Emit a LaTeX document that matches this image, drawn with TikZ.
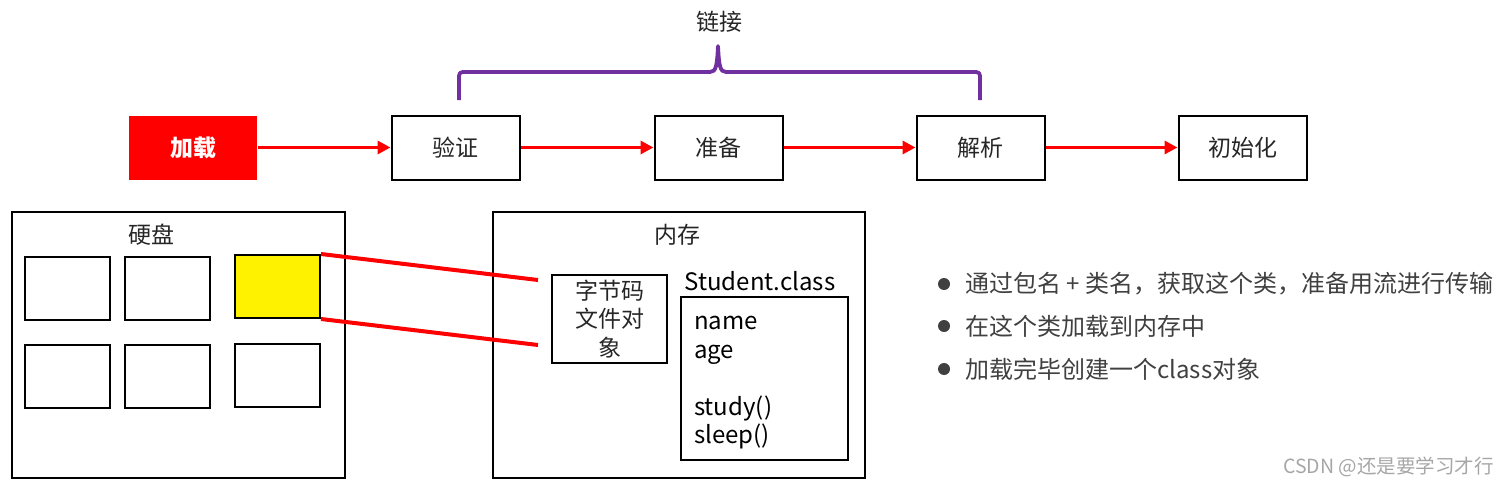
\documentclass[tikz,border=0pt]{standalone}
\usepackage{fontspec}
\setmainfont{Noto Sans CJK SC}
\usetikzlibrary{arrows.meta}
\definecolor{txt}{HTML}{262626}
\definecolor{bracecol}{HTML}{7030A0}
\definecolor{dotcol}{HTML}{404040}
\definecolor{wm}{HTML}{A6A6A6}
\begin{document}
\begin{tikzpicture}[x=1pt,y=-1pt,
  stage/.style={draw=black, line width=2pt, minimum width=128pt, minimum height=64pt, inner sep=0pt, font=\fontsize{23}{26}\selectfont, text=txt},
  flow/.style={red, line width=3.5pt, -{Triangle[length=13pt,width=13pt]}},
  frame/.style={draw=black, line width=2pt, inner sep=0pt},
  cell/.style={draw=black, line width=2pt, minimum width=85pt, minimum height=63pt, inner sep=0pt},
  lbl/.style={font=\fontsize{23}{26}\selectfont, text=txt, inner sep=0pt},
  link/.style={red, line width=4pt},
  bullet/.style={circle, fill=dotcol, minimum size=12pt, inner sep=0pt},
  btext/.style={font=\fontsize{24}{26}\selectfont, text=dotcol, anchor=west, inner sep=0pt}]
\useasboundingbox (0,0) rectangle (1509,487);

% top flow
\node[stage, draw=none, fill=red, text=white, font=\fontsize{23}{26}\selectfont\bfseries] (load) at (193,147.5) {加载};
\node[stage] (verify) at (455.5,147.5) {验证};
\node[stage] (prep) at (718.5,147.5) {准备};
\node[stage] (resolve) at (980.5,147.5) {解析};
\node[stage] (init) at (1242.5,147.5) {初始化};
\draw[flow] (load) -- (verify);
\draw[flow] (verify) -- (prep);
\draw[flow] (prep) -- (resolve);
\draw[flow] (resolve) -- (init);

% brace
\coordinate (bl) at (459,100);
\coordinate (br) at (980,100);
\draw[bracecol, line width=3.8pt, line join=round]
  (bl) -- (459,80) .. controls (459,72) .. (467,72) -- (710,72)
  .. controls (716,72) and (717,66) .. (718,46)
  .. controls (719,66) and (720,72) .. (726,72) -- (972,72)
  .. controls (980,72) .. (980,80) -- (br);
\node[lbl] (linklbl) at (719,22) {链接};

% hard disk
\node[frame, minimum width=333pt, minimum height=266pt] (disk) at (178.5,345) {};
\node[lbl] (disklbl) at (151,235) {硬盘};
\node[cell] (c1) at (67.5,288.5) {};
\node[cell] (c2) at (167.5,288.5) {};
\node[cell, fill=yellow] (c3) at (277.5,286.5) {};
\node[cell] (c4) at (67,376.5) {};
\node[cell] (c5) at (167,376.5) {};
\node[cell] (c6) at (277.5,375.5) {};

% memory
\node[frame, minimum width=372pt, minimum height=266pt] (mem) at (679,345) {};
\node[lbl] (memlbl) at (677,235) {内存};
\node[frame, minimum width=115pt, minimum height=88pt, align=center, font=\fontsize{23}{28.5}\selectfont, text=txt] (bytecode) at (609.5,319) {字节码\\文件对\\象};
\node[lbl, text=black, font=\fontsize{24}{26}\selectfont] (sclbl) at (760,281) {Student.class};
\node[frame, minimum width=167pt, minimum height=163pt] (cls) at (764.5,378.5) {};
\node[lbl, text=black, align=left, anchor=west, font=\fontsize{24}{28.5}\selectfont] (members) at (694,383) {name\\age\\\mbox{}\\study()\\sleep()};

% red links
\coordinate (e1) at (538,280);
\coordinate (e2) at (538,345);
\draw[link] (c3.north east) -- (e1);
\draw[link] (c3.south east) -- (e2);

% bullets
\node[bullet] (b1) at (944,284) {};
\node[bullet] (b2) at (944,326) {};
\node[bullet] (b3) at (944,369) {};
\node[btext] (t1) at (965,284) {通过包名 + 类名，获取这个类，准备用流进行传输};
\node[btext] (t2) at (965,326) {在这个类加载到内存中};
\node[btext] (t3) at (965,369) {加载完毕创建一个class对象};

% watermark
\node[font=\fontsize{19.5}{21}\selectfont, text=wm, anchor=east, inner sep=0pt] (mark) at (1494,467) {CSDN @还是要学习才行};
\end{tikzpicture}
\end{document}
